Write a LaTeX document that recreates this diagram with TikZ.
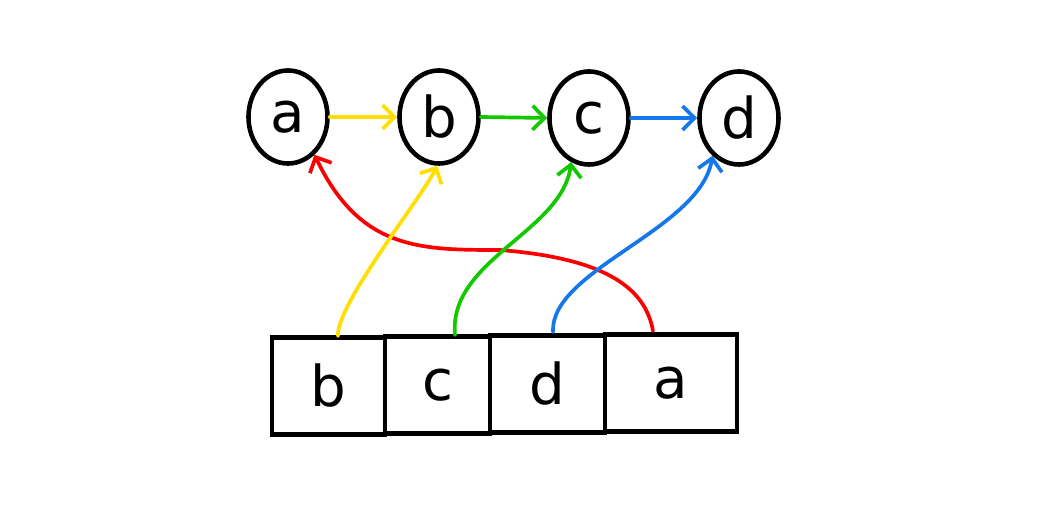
\documentclass[tikz,border=0pt]{standalone}
\usepackage{fontspec}
\setmainfont{DejaVu Sans}
\usetikzlibrary{shapes.geometric,arrows.meta}
\definecolor{cyel}{RGB}{255,222,0}
\definecolor{cgrn}{RGB}{20,200,0}
\definecolor{cblu}{RGB}{20,120,235}
\definecolor{cred}{RGB}{250,0,0}
\tikzset{
  vtx/.style={ellipse,draw=black,line width=1.3pt,inner sep=0pt,minimum width=0.79cm,minimum height=0.93cm,font=\fontsize{16}{16}\selectfont},
  cell/.style={rectangle,draw=black,line width=1.3pt,inner sep=0pt,minimum height=0.97cm,font=\fontsize{16}{16}\selectfont},
  link/.style={line width=1.05pt,line cap=round,line join=round,-{Straight Barb[length=1.2mm,width=2.4mm,line width=1.05pt]}}
}
\begin{document}
\begin{tikzpicture}[x=0.01cm,y=-0.01cm]
\useasboundingbox (0,0) rectangle (1050,525);
\node[vtx] (na) at (288,117) {a};
\node[vtx] (nb) at (439,117) {b};
\node[vtx] (nc) at (589,118) {c};
\node[vtx] (nd) at (739,118) {d};
\node[cell,minimum width=1.13cm] (cb) at (328.5,386) {b};
\node[cell,minimum width=1.05cm] (cc) at (437.5,385) {c};
\node[cell,minimum width=1.15cm] (cd) at (547.5,384) {d};
\node[cell,minimum width=1.32cm] (ca) at (671,383) {a};
\coordinate (ys) at (338,336);
\coordinate (gs) at (455,335);
\coordinate (bs) at (553,332);
\coordinate (rs) at (653,331);
\draw[link,cyel] (na.east) -- (nb.west);
\draw[link,cgrn] (nb.east) -- (nc.west);
\draw[link,cblu] (nc.east) -- (nd.west);
\draw[link,cred] (rs) .. controls (645,285) and (600,258) .. (500,250)
  .. controls (420,250) and (360,250) .. (na.-55);
\draw[link,cyel] (ys) .. controls (336,305) and (420,200) .. (nb.-92);
\draw[link,cgrn] (gs) .. controls (448,260) and (562,232) .. (nc.-112);
\draw[link,cblu] (bs) .. controls (550,270) and (700,230) .. (nd.-125);
\end{tikzpicture}
\end{document}
